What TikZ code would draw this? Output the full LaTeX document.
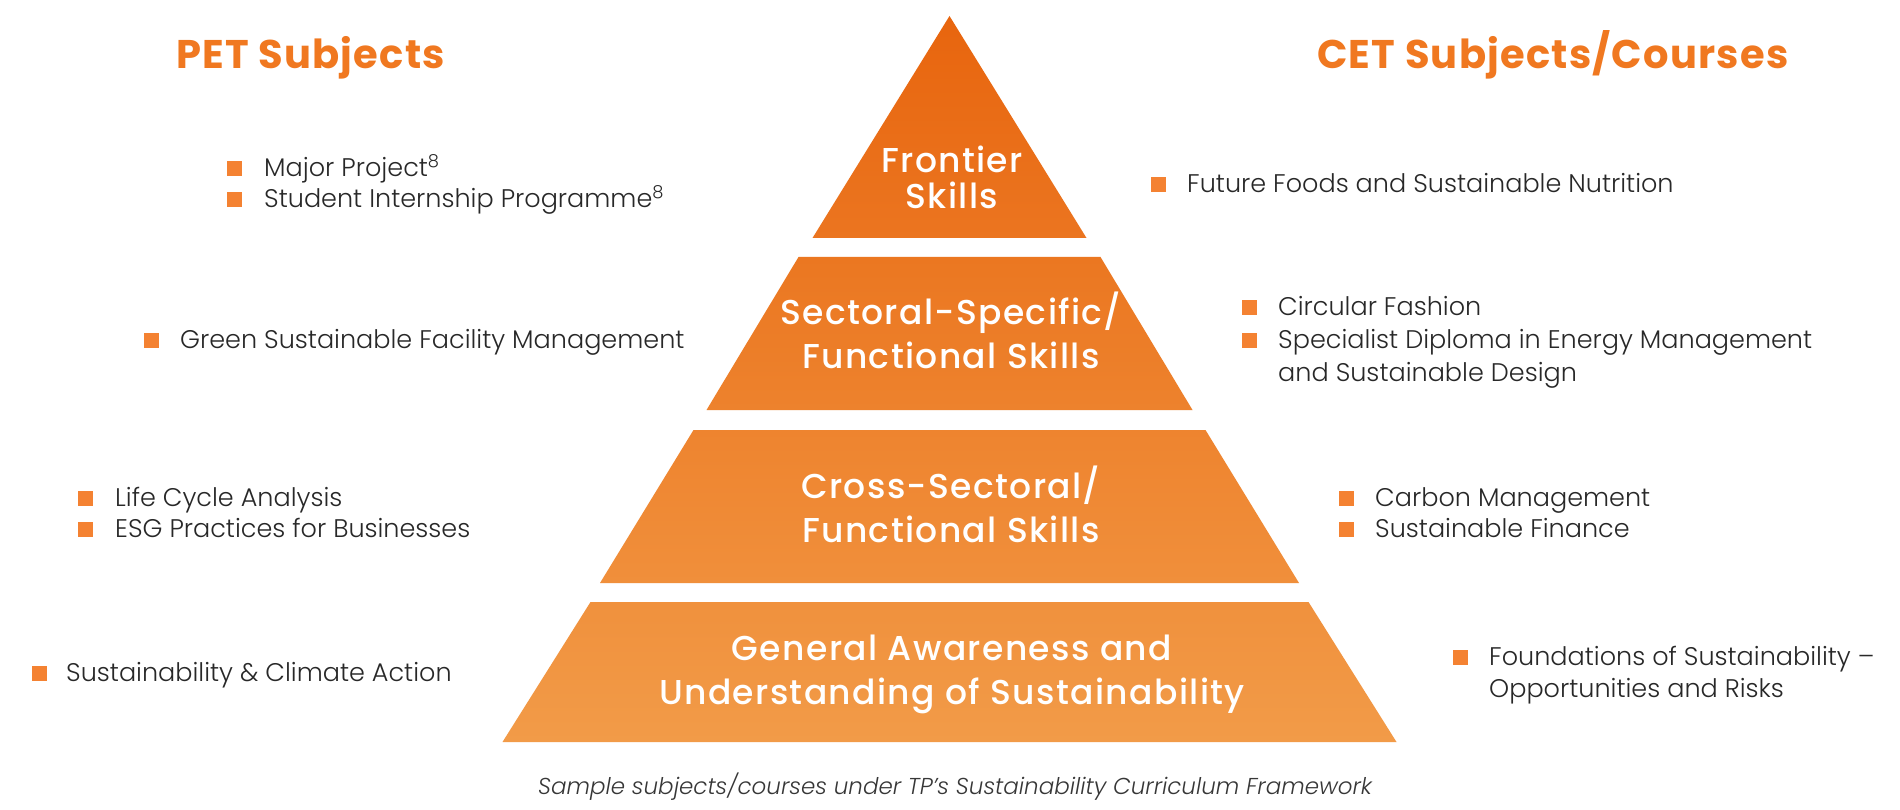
\documentclass[tikz,border=0pt]{standalone}
\usepackage{fontspec}
\setmainfont{Poppins Light}
\newfontfamily\popmed{Poppins Medium}
\newfontfamily\popfam{Poppins}
\usetikzlibrary{positioning}
\definecolor{hdorange}{RGB}{240,120,32}
\definecolor{bulorange}{RGB}{244,130,50}
\definecolor{txtgray}{RGB}{40,40,40}
\definecolor{capgray}{RGB}{55,55,55}
\definecolor{pA}{RGB}{232,101,14}
\definecolor{pB}{RGB}{235,117,32}
\definecolor{pC}{RGB}{235,119,33}
\definecolor{pD}{RGB}{237,130,45}
\definecolor{pE}{RGB}{238,132,47}
\definecolor{pF}{RGB}{240,143,59}
\definecolor{pG}{RGB}{240,145,61}
\definecolor{pH}{RGB}{242,155,72}
\tikzset{
  heading/.style={text=hdorange, font=\popfam\bfseries\addfontfeatures{LetterSpace=3}\fontsize{40}{44}\selectfont, anchor=base west, inner sep=0pt},
  level/.style={text=white, font=\popmed\addfontfeatures{LetterSpace=4}\fontsize{34.5}{44}\selectfont, anchor=base, inner sep=0pt},
  item/.style={text=txtgray, font=\fontsize{25.5}{34}\selectfont, anchor=base west, inner sep=0pt, align=left},
  bul/.style={fill=bulorange, minimum size=15pt, inner sep=0pt, outer sep=0pt},
  captext/.style={text=capgray, font=\itshape\fontsize{23}{26}\selectfont, anchor=base, inner sep=0pt}
}
\begin{document}
\begin{tikzpicture}[x=1pt,y=-1pt]
\useasboundingbox (0,0) rectangle (1900,810);
\fill[white] (0,0) rectangle (1900,810);
% pyramid
\shade[top color=pA, bottom color=pB] (949.5,16) -- (1086.5,238) -- (812.5,238) -- cycle;
\shade[top color=pC, bottom color=pD] (798.5,257) -- (1100.5,257) -- (1192.5,410) -- (706.5,410) -- cycle;
\shade[top color=pE, bottom color=pF] (693.5,430) -- (1205.5,430) -- (1299,583) -- (600,583) -- cycle;
\shade[top color=pG, bottom color=pH] (590.5,602) -- (1308.5,602) -- (1396.5,742) -- (502.5,742) -- cycle;
\node[level] (l1a) at (952,173) {Frontier};
\node[level] (l1b) at (952,209) {Skills};
\node[level] (l2a) at (951,324) {Sectoral-Specific/};
\node[level] (l2b) at (951,368) {Functional Skills};
\node[level] (l3a) at (951,498) {Cross-Sectoral/};
\node[level] (l3b) at (951,542) {Functional Skills};
\node[level] (l4a) at (952,660) {General Awareness and};
\node[level] (l4b) at (952,704) {Understanding of Sustainability};
% headings
\node[heading] (h1) at (176,69) {PET Subjects};
\node[heading] (h2) at (1317,69) {CET Subjects/Courses};
% left items
\node[bul] (b1) at (234,169) {};
\node[item] (t1) at (264,177) {Major Project\textsuperscript{8}};
\node[bul] (b2) at (234,200) {};
\node[item] (t2) at (264,208) {Student Internship Programme\textsuperscript{8}};
\node[bul] (b3) at (151,340) {};
\node[item] (t3) at (180,348) {Green Sustainable Facility Management};
\node[bul] (b4) at (85,498) {};
\node[item] (t4) at (115,506) {Life Cycle Analysis};
\node[bul] (b5) at (85,529) {};
\node[item] (t5) at (115,537) {ESG Practices for Businesses};
\node[bul] (b6) at (39,673) {};
\node[item] (t6) at (66,681) {Sustainability \& Climate Action};
% right items
\node[bul] (r1) at (1158,185) {};
\node[item] (s1) at (1187,193) {Future Foods and Sustainable Nutrition};
\node[bul] (r2) at (1249,307) {};
\node[item] (s2) at (1278,315) {Circular Fashion};
\node[bul] (r3) at (1249,340) {};
\node[item] (s3) at (1278,348) {Specialist Diploma in Energy Management};
\node[item] (s3b) at (1278,381) {and Sustainable Design};
\node[bul] (r4) at (1346,498) {};
\node[item] (s4) at (1375,506) {Carbon Management};
\node[bul] (r5) at (1346,529) {};
\node[item] (s5) at (1375,537) {Sustainable Finance};
\node[bul] (r6) at (1460,657) {};
\node[item] (s6) at (1489,665) {Foundations of Sustainability –};
\node[item] (s6b) at (1489,697) {Opportunities and Risks};
% caption
\node[captext] (c) at (955,794) {Sample subjects/courses under TP’s Sustainability Curriculum Framework};
\end{tikzpicture}
\end{document}
